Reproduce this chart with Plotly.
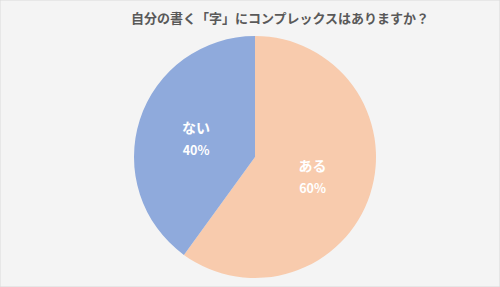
import plotly.graph_objects as go

labels = ["ある", "ない"]
values = [60, 40]
colors = ["#f8cbad", "#8faadc"]
title = "自分の書く「字」にコンプレックスはありますか？"

fig = go.Figure(go.Pie(
    labels=labels,
    values=values,
    sort=False,
    direction="clockwise",
    rotation=0,
    marker=dict(colors=colors, line=dict(width=0)),
    texttemplate="<span style='font-size:14px'>%{label}</span><br> <br>"
                 "<span style='font-size:12.5px'>%{percent:.0%}</span>",
    textposition="inside",
    insidetextorientation="horizontal",
    insidetextfont=dict(color="white", size=8.5, family="Noto Sans CJK JP", weight="bold"),
    hoverinfo="label+percent",
    domain=dict(x=[0.268, 0.752], y=[0.031, 0.875]),
    showlegend=False,
))

fig.update_layout(
    width=500, height=287,
    margin=dict(l=0, r=0, t=0, b=0),
    paper_bgcolor="#f4f4f4",
    plot_bgcolor="#f4f4f4",
    title=dict(text=title, x=0.56, xanchor="center", y=0.935, yanchor="middle",
               font=dict(size=13, color="#595959", family="Noto Sans CJK JP", weight="bold")),
    shapes=[dict(type="rect", xref="paper", yref="paper", x0=0, y0=0, x1=1, y1=1,
                 line=dict(color="#d9d9d9", width=1))],
)

fig.write_html("out.html")
